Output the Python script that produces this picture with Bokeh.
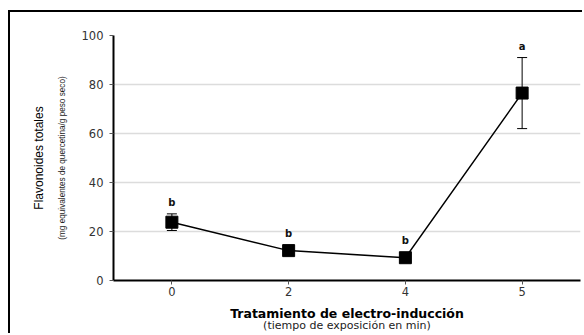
from bokeh.plotting import figure
from bokeh.models import (ColumnDataSource, Whisker, TeeHead, Title, FactorRange, Range1d,
                          CategoricalAxis)
from bokeh.core.properties import value
from bokeh.embed import file_html
from bokeh.resources import INLINE

# Data
categories = ["0", "2", "4", "5"]
means = [23.8, 12.2, 9.3, 76.5]
errors = [3.4, 1.0, 0.8, 14.5]
letters = ["b", "b", "b", "a"]
y_ticks = [0, 20, 40, 60, 80, 100]

upper = [m + e for m, e in zip(means, errors)]
lower = [m - e for m, e in zip(means, errors)]

W, H = 574, 323
top_b, bot_b, left_b, right_b = 23, 55, 103, 4
frame_h = H - top_b - bot_b
px_per_unit = frame_h / 100.0
sq_size = 12
anchor = [max(u, m + (sq_size / 2) / px_per_unit) for u, m in zip(upper, means)]

src = ColumnDataSource(dict(x=categories, m=means, up=upper, lo=lower, lab=letters, ay=anchor))

p = figure(width=W, height=H, x_range=FactorRange(*categories), y_range=Range1d(0, 100),
           output_backend="svg", toolbar_location=None,
           min_border_top=top_b, min_border_bottom=bot_b,
           min_border_left=left_b, min_border_right=right_b)
p.margin = (10, 0, 0, 8)
p.styles = {"border-top": "2px solid black", "border-left": "2px solid black"}
p.outline_line_color = None
p.background_fill_color = "white"
p.border_fill_color = "white"

# grid
p.xgrid.grid_line_color = None
p.ygrid.grid_line_color = "#dcdcdc"
p.ygrid.grid_line_width = 1.5
p.ygrid.ticker = y_ticks

# axes
for ax in (p.xaxis[0], p.yaxis[0]):
    ax.axis_line_color = "black"
    ax.axis_line_width = 2
    ax.major_tick_line_color = "#555555"
    ax.major_tick_line_width = 1
    ax.major_tick_out = 4
    ax.major_tick_in = 0
    ax.minor_tick_line_color = None
    ax.major_label_text_font = "DejaVu Sans"
    ax.major_label_text_font_size = "11.5px"
    ax.major_label_text_color = "#333333"

p.yaxis.ticker = y_ticks
p.yaxis.major_label_standoff = 6
p.yaxis.axis_label = "(mg equivalentes de quercetina/g peso seco)"
p.yaxis.axis_label_text_font = "Liberation Sans"
p.yaxis.axis_label_text_font_size = "8.2px"
p.yaxis.axis_label_text_font_style = "normal"
p.yaxis.axis_label_text_color = "#222222"
p.yaxis.axis_label_standoff = 12

p.xaxis.major_label_standoff = 2
p.xaxis.axis_label = "Tratamiento de electro-inducción"
p.xaxis.axis_label_text_font = "DejaVu Sans"
p.xaxis.axis_label_text_font_size = "12.5px"
p.xaxis.axis_label_text_font_style = "bold"
p.xaxis.axis_label_text_color = "black"
p.xaxis.axis_label_standoff = 7

t_left = Title(text="Flavonoides totales", align="center", text_font="Liberation Sans",
               text_font_size="12px", text_font_style="normal", text_color="black",
               standoff=18, offset=0)
p.add_layout(t_left, "left")

# subtitle under the x-axis label: an extra axis that only carries a label
sub_axis = CategoricalAxis(axis_line_color=None, major_tick_line_color=None,
                           minor_tick_line_color=None, major_label_text_font_size="0px",
                           major_label_text_alpha=0,
                           major_tick_out=0, major_tick_in=0, major_label_standoff=0,
                           axis_label="(tiempo de exposición en min)",
                           axis_label_standoff=-5, axis_label_text_font="DejaVu Sans",
                           axis_label_text_font_size="11px",
                           axis_label_text_font_style="normal",
                           axis_label_text_color="#222222")
p.add_layout(sub_axis, "below")

# data
p.line("x", "m", source=src, line_color="black", line_width=1.5)
wh = Whisker(base="x", upper="up", lower="lo", source=src, line_color="black", line_width=1,
             upper_head=TeeHead(size=10, line_color="black", line_width=1),
             lower_head=TeeHead(size=10, line_color="black", line_width=1))
p.add_layout(wh)
p.scatter("x", "m", source=src, marker="square", size=sq_size, color="black")
p.text("x", "ay", text="lab", source=src, text_align="center", text_baseline="middle",
       y_offset=-11, text_font=value("DejaVu Sans"), text_font_size="10px",
       text_font_style="bold", text_color="#111111")

open("out.html", "w").write(file_html(p, INLINE))
